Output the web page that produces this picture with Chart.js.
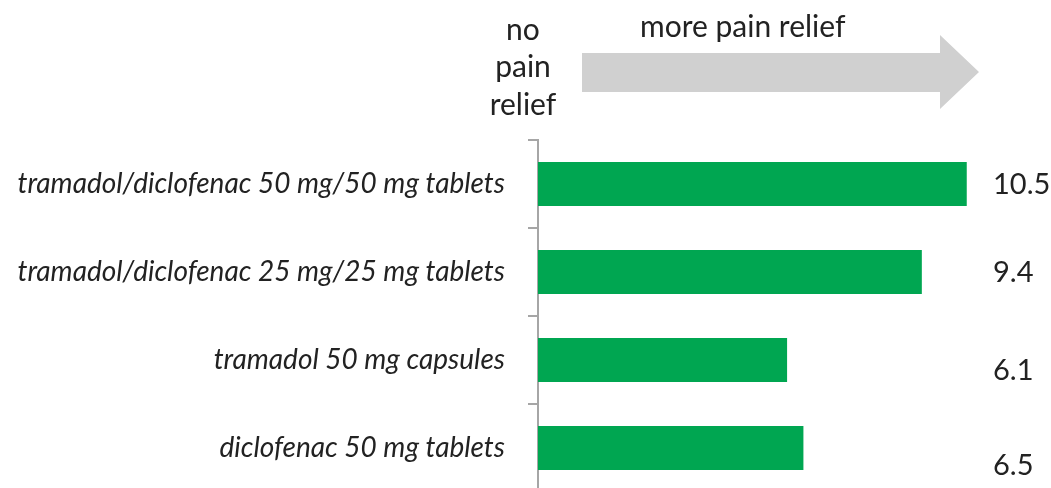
<!DOCTYPE html>
<html>
<head>
<meta charset="utf-8">
<script src="https://cdn.jsdelivr.net/npm/chart.js@4"></script>
<style>
  html, body { margin: 0; padding: 0; background: #fff; overflow: hidden; }
  canvas { display: block; }
</style>
</head>
<body>
<canvas id="reliefChart" width="1051" height="492"></canvas>
<script>
// Données
const categories = [
    'tramadol/diclofenac 50 mg/50 mg tablets',
    'tramadol/diclofenac 25 mg/25 mg tablets',
    'tramadol 50 mg capsules',
    'diclofenac 50 mg tablets'
];
const values = [10.5, 9.4, 6.1, 6.5];
const valueLabels = ['10.5', '9.4', '6.1', '6.5'];
const headerLeft = ['no', 'pain', 'relief'];
const headerArrow = 'more pain relief';

// petit décalage vertical des étiquettes de valeur, comme sur l'original
const labelShift = [1, 1, 11, 18];

const GREEN = '#00a651';
const AXIS_GREY = '#a6a6a6';
const ARROW_GREY = '#d0d0d0';
const TEXT = '#222222';

// En-tête : flèche grise + textes
const headerPlugin = {
    id: 'header',
    afterDraw(chart) {
        const ctx = chart.ctx;
        ctx.save();
        // flèche
        ctx.fillStyle = ARROW_GREY;
        ctx.beginPath();
        ctx.moveTo(582, 53);
        ctx.lineTo(940, 53);
        ctx.lineTo(940, 35);
        ctx.lineTo(979, 72);
        ctx.lineTo(940, 109);
        ctx.lineTo(940, 92);
        ctx.lineTo(582, 92);
        ctx.closePath();
        ctx.fill();

        ctx.fillStyle = TEXT;
        ctx.font = '30px Lato';
        ctx.textBaseline = 'middle';
        ctx.textAlign = 'center';
        headerLeft.forEach((t, i) => ctx.fillText(t, 523, 30 + i * 37.5));
        ctx.textAlign = 'left';
        ctx.fillText(headerArrow, 640, 27);

        // valeurs à droite
        ctx.font = '29px Lato';
        const y = chart.scales.y;
        valueLabels.forEach((t, i) => {
            ctx.fillText(t, 993, y.getPixelForValue(i) + labelShift[i]);
        });
        ctx.restore();
    }
};

document.addEventListener('DOMContentLoaded', function() {
    const ctx = document.getElementById('reliefChart').getContext('2d');
    new Chart(ctx, {
        type: 'bar',
        data: {
            labels: categories,
            datasets: [{
                data: values,
                backgroundColor: GREEN,
                borderWidth: 0,
                barPercentage: 0.5,
                categoryPercentage: 1.0
            }]
        },
        options: {
            indexAxis: 'y',
            responsive: false,
            animation: false,
            layout: { padding: { top: 140, right: 23, left: 0, bottom: 0 } },
            plugins: {
                legend: { display: false },
                tooltip: { enabled: false }
            },
            scales: {
                x: {
                    display: false,
                    min: 0,
                    max: 12
                },
                y: {
                    afterFit: (s) => {
                        s.width = 538;
                        s.paddingTop = 0;
                        s.paddingBottom = 0;
                    },
                    border: { display: true, color: AXIS_GREY, width: 2 },
                    grid: {
                        drawOnChartArea: false,
                        drawTicks: true,
                        tickLength: 10,
                        color: AXIS_GREY,
                        lineWidth: 2
                    },
                    ticks: {
                        padding: 23,
                        color: TEXT,
                        font: { family: 'Lato', size: 28, style: 'italic' }
                    }
                }
            }
        },
        plugins: [headerPlugin]
    });
});
</script>
</body>
</html>
